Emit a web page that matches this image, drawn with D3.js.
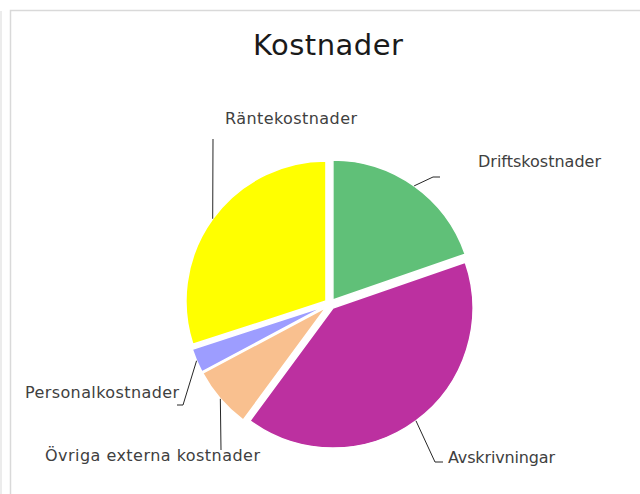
<!DOCTYPE html>
<html>
<head>
<meta charset="utf-8">
<script src="https://cdn.jsdelivr.net/npm/d3@7"></script>
<style>
  body { margin: 0; background: #fff; }
  text { font-family: "DejaVu Sans", sans-serif; }
</style>
</head>
<body>
<svg width="640" height="494"></svg>
<script>
// data (share of total, %)
const categories = ["Driftskostnader", "Avskrivningar", "Övriga externa kostnader", "Personalkostnader", "Räntekostnader"]
const values = [19.7, 40.4, 7.1, 2.8, 30.0]
const colors = ["#60c078", "#bc30a0", "#f9c08f", "#9d9dff", "#ffff00"]

// label layout: text position + elbow points of the leader line
const labelLayout = [
    { x: 478, y: 167, anchor: "start", w: 123, elbow: [[433, 177], [440, 177]] },
    { x: 448, y: 463, anchor: "start", w: 107, elbow: [[435, 462], [443, 462]] },
    { x: 45, y: 461, anchor: "start", w: 215, elbow: [[221, 450]] },
    { x: 25, y: 398, anchor: "start", w: 154, elbow: [[183, 405], [177, 405]] },
    { x: 225, y: 124, anchor: "start", w: 132, elbow: [[213, 139]] }
]

const svg = d3.select("svg")
const cx = 330, cy = 304, radius = 140, explode = 5

// chart frame
svg.append("rect")
    .attr("x", 10.5).attr("y", 10.5)
    .attr("width", 700).attr("height", 600)
    .style("fill", "none")
    .style("stroke", "#d9d9d9")
    .style("stroke-width", 1.5)
svg.append("line")
    .attr("x1", 1).attr("x2", 1).attr("y1", 11).attr("y2", 494)
    .style("stroke", "#d9d9d9")

svg.append("text")
    .attr("x", 328).attr("y", 55)
    .attr("text-anchor", "middle")
    .attr("textLength", 150)
    .style("font-size", "29px")
    .style("fill", "#1a1a1a")
    .text("Kostnader")

const pie = d3.pie().sort(null).value(d => d)
const arcs = pie(values)
const arc = d3.arc().innerRadius(0).outerRadius(radius)

const mid = d => (d.startAngle + d.endAngle) / 2
const offset = d => [Math.sin(mid(d)) * explode, -Math.cos(mid(d)) * explode]

const g = svg.append("g").attr("transform", `translate(${cx}, ${cy})`)

g.selectAll("path.slice")
    .data(arcs)
    .enter()
    .append("path")
    .attr("class", "slice")
    .attr("transform", d => `translate(${offset(d)})`)
    .attr("d", arc)
    .style("fill", (d, i) => colors[i])
    .style("stroke", "#fff")
    .style("stroke-width", 1.5)

// leader lines from each slice's outer edge at its bisector
const line = d3.line()
svg.selectAll("path.leader")
    .data(arcs)
    .enter()
    .append("path")
    .attr("class", "leader")
    .attr("d", (d, i) => {
        const o = offset(d)
        const a = mid(d)
        const start = [cx + o[0] + Math.sin(a) * radius, cy + o[1] - Math.cos(a) * radius]
        return line([start, ...labelLayout[i].elbow])
    })
    .style("fill", "none")
    .style("stroke", "#262626")
    .style("stroke-width", 1)

svg.selectAll("text.label")
    .data(categories)
    .enter()
    .append("text")
    .attr("class", "label")
    .attr("x", (d, i) => labelLayout[i].x)
    .attr("y", (d, i) => labelLayout[i].y)
    .attr("text-anchor", (d, i) => labelLayout[i].anchor)
    .attr("textLength", (d, i) => labelLayout[i].w)
    .style("font-size", "16px")
    .style("fill", "#404040")
    .text(d => d)
</script>
</body>
</html>
